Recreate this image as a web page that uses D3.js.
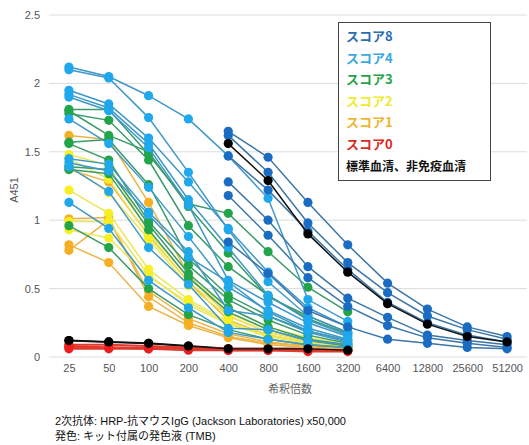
<!DOCTYPE html>
<html><head><meta charset="utf-8">
<script src="https://cdn.jsdelivr.net/npm/d3@7"></script>
<style>
body{margin:0;background:#fff;}
</style></head>
<body><svg id="c" width="529" height="445"></svg>
<script>
const categories = ["25","50","100","200","400","800","1600","3200","6400","12800","25600","51200"];
const lowDilutions = ["25","50","100","200","400","800","1600","3200"];
const highDilutions = ["400","800","1600","3200","6400","12800","25600","51200"];
const yTicks = [0, 0.5, 1, 1.5, 2, 2.5];

const score0 = [
  [0.09,0.09,0.08,0.07,0.06,0.06,0.06,0.05],
  [0.07,0.07,0.07,0.06,0.05,0.05,0.05,0.05],
  [0.06,0.06,0.06,0.05,0.05,0.05,0.05,0.05],
  [0.08,0.07,0.06,0.06,0.05,0.05,0.04,0.04]
];
const score1 = [
  [1.62,1.59,1.13,0.60,0.30,0.18,0.12,0.09],
  [1.37,1.28,0.89,0.55,0.27,0.16,0.11,0.08],
  [1.01,1.02,0.44,0.25,0.15,0.10,0.08,0.06],
  [0.82,0.69,0.37,0.23,0.14,0.09,0.07,0.06],
  [0.78,1.00,0.48,0.28,0.17,0.11,0.08,0.06]
];
const score2 = [
  [1.48,1.40,0.91,0.58,0.36,0.22,0.14,0.10],
  [1.45,1.30,0.88,0.55,0.32,0.20,0.12,0.09],
  [1.22,1.05,0.64,0.42,0.26,0.16,0.11,0.08],
  [0.99,0.99,0.60,0.38,0.24,0.15,0.10,0.07],
  [0.93,0.87,0.59,0.40,0.25,0.15,0.10,0.07],
  [1.40,1.20,0.86,0.52,0.30,0.18,0.12,0.08]
];
const score3 = [
  [1.81,1.81,1.48,1.12,1.05,0.77,0.51,0.33],
  [1.78,1.73,1.44,0.96,0.66,0.45,0.28,0.17],
  [1.57,1.59,1.26,0.72,0.45,0.30,0.19,0.12],
  [1.56,1.44,0.99,0.67,0.42,0.27,0.16,0.10],
  [1.39,1.37,0.97,0.61,0.36,0.22,0.13,0.09],
  [1.37,1.34,0.93,0.58,0.33,0.20,0.12,0.08],
  [0.96,0.80,0.50,0.31,0.20,0.13,0.09,0.07],
  [1.80,1.62,1.50,1.10,0.76,0.44,0.30,0.18]
];
const score4 = [
  [2.12,2.05,1.91,1.74,1.47,1.16,0.42,0.26],
  [2.10,2.04,1.75,1.35,0.93,0.55,0.30,0.18],
  [1.95,1.85,1.60,1.28,0.94,0.62,0.36,0.22],
  [1.92,1.82,1.56,1.15,0.80,0.45,0.27,0.16],
  [1.90,1.80,1.53,1.11,0.56,0.40,0.25,0.15],
  [1.74,1.56,1.24,0.88,0.51,0.34,0.21,0.13],
  [1.45,1.41,1.06,0.77,0.34,0.30,0.18,0.11],
  [1.39,1.21,0.80,0.53,0.21,0.20,0.12,0.09],
  [1.13,0.94,0.56,0.36,0.18,0.13,0.09,0.07],
  [1.42,1.36,1.04,0.73,0.55,0.33,0.19,0.12]
];
const score8 = [
  [1.65,1.46,1.13,0.82,0.54,0.35,0.22,0.15],
  [1.62,1.35,0.98,0.69,0.47,0.30,0.20,0.13],
  [1.47,1.22,0.92,0.64,0.40,0.25,0.16,0.11],
  [1.28,1.00,0.66,0.43,0.29,0.16,0.12,0.09],
  [1.18,0.89,0.58,0.37,0.23,0.14,0.10,0.07],
  [0.84,0.61,0.34,0.22,0.13,0.10,0.07,0.06]
];
const standardSerum = [1.56,1.29,0.90,0.62,0.39,0.24,0.15,0.11];
const nonImmuneSerum = [0.12,0.11,0.10,0.08,0.06,0.06,0.06,0.05];

const legendLabels = ["スコア8","スコア4","スコア3","スコア2","スコア1","スコア0","標準血清、非免疫血清"];
const legendColors = ["#2a6db3","#3aa8e0","#27a24a","#f0ea30","#f0b530","#d92a1e","#111"];

const latin = "'Liberation Sans','Noto Sans CJK JP',Arial,sans-serif";
const cjk = "'Noto Sans CJK JP','Liberation Sans',sans-serif";

const svg = d3.select("#c");
const x = d3.scalePoint().domain(categories).range([49, 527]).padding(0.5);
const y = d3.scaleLinear().domain([0, 2.5]).range([357, 15]);

// gridlines
svg.append("g").selectAll("line").data(yTicks).join("line")
  .attr("x1", 49).attr("x2", 527)
  .attr("y1", d => y(d)).attr("y2", d => y(d))
  .attr("stroke", "#dcdcdc").attr("stroke-width", 1);

// y axis labels
const yAxis = d3.axisLeft(y).tickValues(yTicks).tickSize(0).tickPadding(0).tickFormat(d3.format("~g"));
svg.append("g").attr("transform", "translate(40,0)").call(yAxis)
  .call(g => g.select(".domain").remove())
  .call(g => g.selectAll("text").style("font-size", "11px").style("fill", "#555")
    .style("font-family", latin));

// x axis labels
const xAxis = d3.axisBottom(x).tickSize(0).tickPadding(0);
svg.append("g").attr("transform", "translate(0,364)").call(xAxis)
  .call(g => g.select(".domain").remove())
  .call(g => g.selectAll("text").style("font-size", "11px").style("fill", "#555")
    .style("font-family", latin));

svg.append("text").attr("x", 290).attr("y", 393).attr("text-anchor", "middle")
  .style("font-size", "11px").style("fill", "#666").style("font-family", cjk).text("希釈倍数");
svg.append("text").attr("transform", "translate(18,190) rotate(-90)").attr("text-anchor", "middle")
  .style("font-size", "11px").style("fill", "#555").style("font-family", latin).text("A451");

const line = d3.line().x(d => x(d.c)).y(d => y(d.v));

function drawGroup(seriesList, cats, lineColor, dotColor, lw) {
  const g = svg.append("g");
  seriesList.forEach(s => {
    const pts = s.map((v, i) => ({c: cats[i], v}));
    g.append("path").datum(pts).attr("d", line).attr("fill", "none")
      .attr("stroke", lineColor).attr("stroke-width", lw || 1.5);
    g.selectAll(null).data(pts).join("circle")
      .attr("cx", d => x(d.c)).attr("cy", d => y(d.v)).attr("r", 4.6).attr("fill", dotColor);
  });
}

drawGroup([nonImmuneSerum], lowDilutions, "#111", "#000", 2);
drawGroup(score0, lowDilutions, "#e03a2f", "#ee1d1d", 2);
drawGroup(score1, lowDilutions, "#eab545", "#f6ae22");
drawGroup(score2, lowDilutions, "#ece65a", "#f7ef22");
drawGroup(score3, lowDilutions, "#3a9a6a", "#22a54a");
drawGroup(score4, lowDilutions, "#3f98c8", "#1fa8ec");
drawGroup(score8, highDilutions, "#3c76a8", "#1a6cc2");
drawGroup([standardSerum], highDilutions, "#111", "#000", 1.5);
drawGroup([nonImmuneSerum], lowDilutions, "#111", "#000", 1.2);

// legend
const lg = svg.append("g");
lg.append("rect").attr("x", 338.5).attr("y", 22.5).attr("width", 152).attr("height", 158)
  .attr("fill", "#fff").attr("stroke", "#444").attr("stroke-width", 1);
lg.selectAll("text").data(legendLabels).join("text")
  .attr("x", 346).attr("y", (d, i) => 41 + i * 21.6)
  .style("font-family", cjk)
  .style("font-size", (d, i) => i === 6 ? "12px" : "13px").style("font-weight", "bold")
  .style("fill", (d, i) => legendColors[i]).text(d => d);

// footer
svg.append("text").attr("x", 55).attr("y", 425).style("font-size", "11px").style("fill", "#111")
  .style("font-family", latin)
  .text("2次抗体: HRP-抗マウスIgG (Jackson Laboratories) x50,000");
svg.append("text").attr("x", 55).attr("y", 440).style("font-size", "11px").style("fill", "#111")
  .style("font-family", latin)
  .text("発色: キット付属の発色液 (TMB)");
</script></body></html>
